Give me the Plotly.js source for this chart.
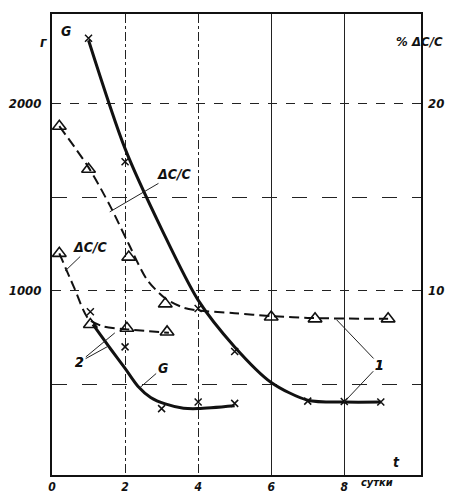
<!DOCTYPE html>
<html><head><meta charset="utf-8">
<script src="https://cdn.plot.ly/plotly-3.0.1.min.js"></script>
<style>html,body{margin:0;padding:0;background:#fff}#chart{width:466px;height:496px}</style>
</head><body><div id="chart"></div>
<script>
// Curve 1: weight G, g (smoothed line and measured points)
const g1FitT = [1, 2, 3, 4, 5, 6, 7, 8, 9];
const g1FitV = [2340, 1760, 1330, 950, 700, 510, 415, 405, 405];
const g1PtsT = [1, 2, 4, 5, 7, 8, 9];
const g1PtsV = [2350, 1690, 905, 675, 410, 408, 405];
// Curve 2: weight G, g
const g2FitT = [1.12, 1.6, 2.0, 2.35, 2.7, 3.1, 3.6, 4.0, 5.0];
const g2FitV = [820, 690, 585, 490, 430, 395, 372, 370, 385];
const g2PtsT = [1.05, 2.0, 3.0, 4.0, 5.0];
const g2PtsV = [888, 700, 370, 405, 398];
// Curve 1: ΔC/C, %
const d1FitT = [0.2, 1, 1.6, 2.1, 2.6, 3.1, 3.6, 4, 5, 6, 7, 9.2];
const d1FitV = [18.8, 16.6, 14.5, 12.5, 10.6, 9.6, 9.1, 8.95, 8.8, 8.65, 8.55, 8.5];
const d1PtsT = [0.2, 1.0, 2.1, 3.1, 6.0, 7.2, 9.2];
const d1PtsV = [18.8, 16.5, 11.8, 9.3, 8.6, 8.5, 8.5];
// Curve 2: ΔC/C, %
const d2FitT = [0.2, 0.6, 1.0, 1.4, 2, 3.2];
const d2FitV = [12.0, 10.2, 8.5, 8.1, 7.95, 7.75];
const d2PtsT = [0.2, 1.05, 2.05, 3.15];
const d2PtsV = [12.0, 8.2, 8.0, 7.8];
// Ticks
const xTicks = [0, 2, 4, 6, 8];
const xTickText = ['0', '2', '4', '6', '8'];
const gTicks = [1000, 2000];
const gTickText = ['1000', '2000'];
const pTicks = [10, 20];
const pTickText = ['10', '20'];

const FF = 'Liberation Sans Narrow, DejaVu Sans Condensed, Arial Narrow, sans-serif';
const fnt = (s) => ({family: FF, size: s, color: '#111', style: 'italic', weight: 'bold'});

const solid = {color: '#111', width: 3, shape: 'spline', smoothing: 0.8};
const dashed = {color: '#111', width: 2, dash: '10px,5px', shape: 'spline', smoothing: 0.8};
const xMark = {symbol: 'x-thin-open', size: 7, color: '#111', line: {color: '#111', width: 1.5}};
const triMark = {symbol: 'triangle-up-open', size: 12, color: '#111', line: {color: '#111', width: 1.6}};

const traces = [
  {x: g1FitT, y: g1FitV, mode: 'lines', line: solid, yaxis: 'y'},
  {x: g1PtsT, y: g1PtsV, mode: 'markers', marker: xMark, yaxis: 'y'},
  {x: g2FitT, y: g2FitV, mode: 'lines', line: solid, yaxis: 'y'},
  {x: g2PtsT, y: g2PtsV, mode: 'markers', marker: xMark, yaxis: 'y'},
  {x: d1FitT, y: d1FitV, mode: 'lines', line: dashed, yaxis: 'y2'},
  {x: d1PtsT, y: d1PtsV, mode: 'markers', marker: triMark, yaxis: 'y2'},
  {x: d2FitT, y: d2FitV, mode: 'lines', line: dashed, yaxis: 'y2'},
  {x: d2PtsT, y: d2PtsV, mode: 'markers', marker: triMark, yaxis: 'y2'},
  {x: [], y: [], xaxis: 'x3', yaxis: 'y3', mode: 'lines'}
];

const ann = (text, x, y, extra) => Object.assign({text: text, x: x, y: y, xref: 'x', yref: 'y', showarrow: false, font: fnt(14)}, extra || {});
const pann = (text, x, y, s) => ({text: text, x: x, y: y, xref: 'paper', yref: 'paper', showarrow: false, font: fnt(s)});
const lead = (text, x, y, ax, ay) => ann(text, x, y, {showarrow: true, arrowhead: 0, arrowwidth: 1, arrowcolor: '#222', ax: ax, ay: ay});

const layout = {
  width: 466, height: 496,
  margin: {l: 52, r: 45, t: 14, b: 21},
  paper_bgcolor: '#fff', plot_bgcolor: '#fff',
  showlegend: false,
  font: fnt(12),
  xaxis: {range: [0, 10.1], tickvals: xTicks, ticktext: xTickText, ticks: '',
    showgrid: true, gridcolor: '#222', gridwidth: 1, griddash: 'dashdot',
    zeroline: false, showline: true, mirror: true, linecolor: '#111', linewidth: 2,
    tickfont: fnt(12), ticklabelstandoff: 0},
  xaxis3: {overlaying: 'x', range: [0, 10.1], tickvals: [6, 8], showticklabels: false, ticks: '',
    showgrid: true, gridcolor: '#222', gridwidth: 1.1, zeroline: false, showline: false},
  yaxis: {range: [15, 2480], tickvals: gTicks, ticktext: gTickText, ticks: '',
    showgrid: true, gridcolor: '#222', gridwidth: 1.1, griddash: 'dash',
    zeroline: false, showline: true, mirror: true, linecolor: '#111', linewidth: 2,
    tickfont: fnt(13), ticklabelstandoff: 6},
  yaxis3: {overlaying: 'y', range: [15, 2480], tickvals: [500, 1500], showticklabels: false, ticks: '',
    showgrid: true, gridcolor: '#222', gridwidth: 1.1, griddash: 'longdash', zeroline: false, showline: false},
  yaxis2: {overlaying: 'y', side: 'right', range: [0.15, 24.8], tickvals: pTicks, ticktext: pTickText, ticks: '',
    showgrid: false, zeroline: false, showline: false, tickfont: fnt(13), ticklabelstandoff: 6},
  annotations: [
    pann('г', -0.038, 0.961, 14),
    ann('G', 0.38, 2389),
    pann('%', 0.97, 0.961, 13),
    pann('ΔC/C', 1.065, 0.961, 13),
    lead('ΔC/C', 1.58, 1422, 65, -38),
    lead('ΔC/C', 0.36, 1106, 25, -24),
    lead('2', 1.72, 775, -35, 29),
    lead('2', 1.55, 705, -29, 16),
    lead('G', 2.4, 481, 23, -20),
    lead('1', 7.79, 845, 43, 45),
    lead('1', 8.0, 406, 35, -37),
    ann('t', 9.43, 86),
    pann('сутки', 0.93, -0.034, 11)
  ]
};

Plotly.newPlot('chart', traces, layout, {staticPlot: true});
</script></body></html>
